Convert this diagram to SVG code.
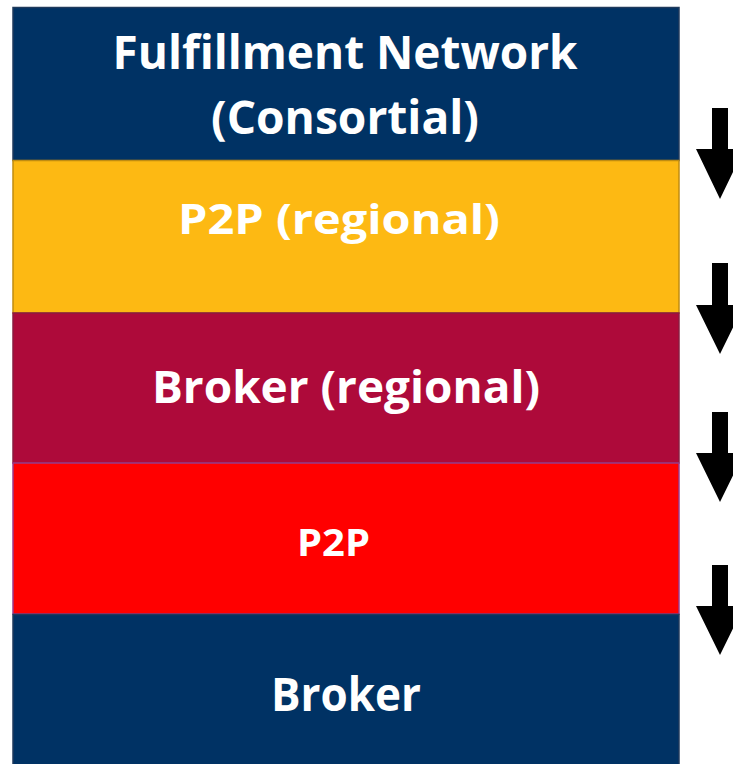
<svg xmlns="http://www.w3.org/2000/svg" width="733" height="764" viewBox="0 0 733 764">
<style>
.lbl{font-family:"Open Sans","Liberation Sans",sans-serif;font-weight:bold;fill:#ffffff;text-anchor:middle}
.arrow{fill:#000000}
</style>
<rect width="733" height="764" fill="#ffffff"/>
<g id="fulfillment">
<rect x="13" y="7.5" width="666" height="153" fill="#003264" stroke="#1f3a5c" stroke-width="1.5"/>
<text class="lbl" x="345" y="69" font-size="47" textLength="465" lengthAdjust="spacingAndGlyphs">Fulfillment Network</text>
<text class="lbl" x="345" y="134" font-size="47" textLength="268" lengthAdjust="spacingAndGlyphs">(Consortial)</text>
</g>
<g id="p2p-regional">
<rect x="13" y="160.5" width="666" height="152.5" fill="#FDB913" stroke="#c08c10" stroke-width="1.5"/>
<text class="lbl" x="339" y="234" font-size="41" textLength="322" lengthAdjust="spacingAndGlyphs">P2P (regional)</text>
</g>
<g id="broker-regional">
<rect x="13" y="313" width="666" height="150" fill="#AE0A3A" stroke="#8a1d40" stroke-width="1.5"/>
<text class="lbl" x="346" y="403" font-size="44" textLength="388" lengthAdjust="spacingAndGlyphs">Broker (regional)</text>
</g>
<g id="p2p">
<rect x="13" y="463" width="666" height="151" fill="#FF0000" stroke="#9a3a8a" stroke-width="1.5"/>
<text class="lbl" x="333.5" y="556" font-size="38" textLength="73" lengthAdjust="spacingAndGlyphs">P2P</text>
</g>
<g id="broker">
<rect x="13" y="614.5" width="666" height="152" fill="#003264" stroke="#1f3a5c" stroke-width="1.5"/>
<text class="lbl" x="346" y="711" font-size="46" textLength="150" lengthAdjust="spacingAndGlyphs">Broker</text>
</g>
<g id="connectors">
<polygon class="arrow" points="712,108 728,108 728,149 744,149 720,199 696,149 712,149"/>
<polygon class="arrow" points="712,263 728,263 728,305 744,305 720,354 696,305 712,305"/>
<polygon class="arrow" points="712,412 728,412 728,453 744,453 720,502 696,453 712,453"/>
<polygon class="arrow" points="712,565 728,565 728,606 744,606 720,655 696,606 712,606"/>
</g>
</svg>
